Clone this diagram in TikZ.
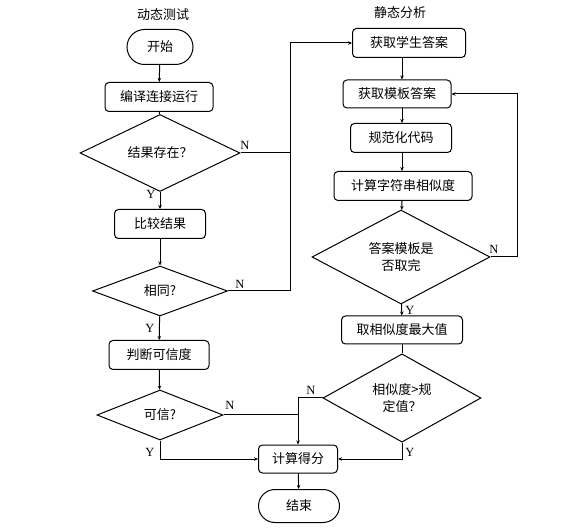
\documentclass[tikz,border=0pt]{standalone}
\usepackage{fontspec}
\setmainfont{Liberation Serif}
\newfontfamily\cjk{Noto Sans CJK SC}
\usepackage{tikz}
\usetikzlibrary{shapes.geometric,shapes.misc,arrows.meta}
\tikzstyle{procbox}=[rectangle,draw,rounded corners=4pt,inner sep=0pt,font=\cjk\fontsize{13}{15}\selectfont]
\tikzstyle{termbox}=[rounded rectangle,draw,inner sep=0pt,font=\cjk\fontsize{13}{15}\selectfont]
\tikzstyle{decision}=[diamond,draw,inner sep=0pt,align=center,font=\cjk\fontsize{13}{17}\selectfont]
\tikzstyle{yn}=[inner sep=0pt,font=\fontsize{12.5}{14}\selectfont]
\tikzstyle{title}=[inner sep=0pt,font=\cjk\fontsize{13}{15}\selectfont]
\tikzstyle{flow}=[-{Stealth[length=4pt,width=3.5pt]}]
\newcommand{\proc}{\node[procbox]}

\begin{document}
\begin{tikzpicture}[x=1pt,y=-1pt,line width=1pt]
		\useasboundingbox (0,0) rectangle (576,529);
		% % % % % % % % % % % % % % % % % % % % % % % % % % % % %
		\node [title] (tl) at (163,15) {动态测试};
		\node [title] (tr) at (400,13) {静态分析};
		%*********************
		\node [termbox,minimum width=66pt,minimum height=35pt] (start) at (160,47) {开始};
		\proc [minimum width=108pt,minimum height=29pt] (compile) at (159,97) {编译连接运行};
		\node [decision,minimum width=160pt,minimum height=58pt] (exist) at (160,153) {结果存在？};
		\proc [minimum width=91pt,minimum height=29pt] (compare) at (160,224) {比较结果};
		\node [decision,minimum width=135pt,minimum height=50pt] (same) at (160,291) {相同?};
		\proc [minimum width=100pt,minimum height=29pt] (judge) at (159,355) {判断可信度};
		\node [decision,minimum width=126pt,minimum height=50pt] (trust) at (160,415) {可信?};
		%*********************
		\proc [minimum width=113pt,minimum height=29pt] (getstu) at (409,43) {获取学生答案};
		\proc [minimum width=108pt,minimum height=28pt] (gettpl) at (397,94) {获取模板答案};
		\proc [minimum width=101pt,minimum height=29pt] (norm) at (401,138) {规范化代码};
		\proc [minimum width=138pt,minimum height=29pt] (simil) at (403,186) {计算字符串相似度};
		\node [decision,minimum width=178pt,minimum height=79pt] (done) at (401,257) {答案模板是\\否取完};
		\proc [minimum width=121pt,minimum height=28pt] (maxv) at (402,330) {取相似度最大值};
		\node [decision,minimum width=158pt,minimum height=83pt] (thresh) at (402,398) {相似度>规\\定值？};
		%*********************
		\proc [minimum width=79pt,minimum height=28pt] (score) at (298,459) {计算得分};
		\node [termbox,minimum width=81pt,minimum height=33pt] (stop) at (299,506) {结束};
		%*********************
		\coordinate (colR) at (402,0);
		\coordinate (busA) at (290,43);
		\coordinate (busB) at (290,153);
		\coordinate (busC) at (298,415);
		\coordinate (loopR) at (517,94);
		%*********************
		\node [yn] (n1) at (245,145) {N};
		\node [yn] (y1) at (151,194) {Y};
		\node [yn] (n2) at (240,284) {N};
		\node [yn] (y2) at (150,328) {Y};
		\node [yn] (n3) at (494,249) {N};
		\node [yn] (y3) at (410,310) {Y};
		\node [yn] (n4) at (230,405) {N};
		\node [yn] (y4) at (150,452) {Y};
		\node [yn] (n5) at (311,390) {N};
		\node [yn] (y5) at (410,452) {Y};
		%*********************
		\path
		(start) edge [flow] (compile)
		(compile) edge [] (exist)
		(exist) edge [flow] (compare)
		(compare) edge [flow] (same)
		(same) edge [flow] (judge)
		(judge) edge [flow] (trust)
		%**************
		(getstu.south -| colR) edge [flow] (gettpl.north -| colR)
		(gettpl.south -| colR) edge [flow] (norm.north -| colR)
		(norm.south -| colR) edge [flow] (simil.north -| colR)
		(simil.south -| colR) edge [flow] (done)
		(done) edge [flow] (maxv)
		(maxv) edge [] (thresh)
		(score) edge [flow] (stop)
		(trust.east) edge [] (busC)
		;
		%**************
		\draw [flow] (exist.east) -| (busA) -- (getstu.west);
		\draw (same.east) -| (busB);
		\draw [flow] (done.east) -| (loopR) -- (gettpl.east);
		\draw [flow] (thresh.west) -| (score.north);
		\draw [flow] (trust.south) |- (score.west);
		\draw [flow] (thresh.south) |- (score.east);
		%********************
\end{tikzpicture}
\end{document}
